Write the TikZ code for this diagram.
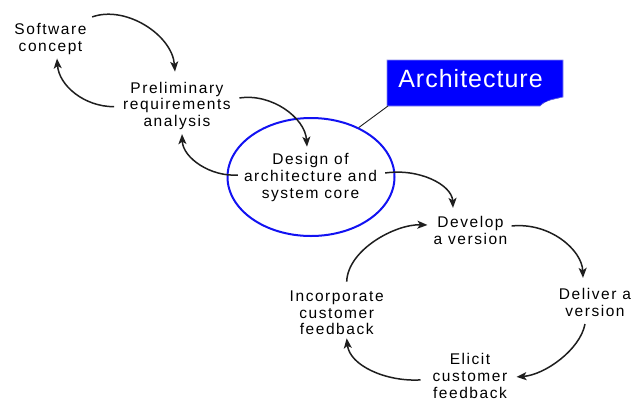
\documentclass[tikz,border=0pt]{standalone}
\usepackage{fontspec}
\setmainfont{Liberation Sans}
\newfontfamily\stagefont{Liberation Sans}[LetterSpace=10]
\newfontfamily\tagfont{Liberation Sans}[LetterSpace=4]
\usetikzlibrary{arrows.meta,shapes.geometric}
\definecolor{inkgray}{HTML}{1E1E1E}
\definecolor{ringblue}{HTML}{1212F2}
\definecolor{tagblue}{HTML}{0000FF}
\definecolor{tagedge}{HTML}{8888EE}
\definecolor{foldblue}{HTML}{0000C8}
\begin{document}
\begin{tikzpicture}[x=1pt, y=-1pt,
  stage/.style={align=center, inner sep=0pt, text=black, font=\stagefont\fontsize{15.5}{16.7}\selectfont},
  flow/.style={-{Stealth[length=10pt,width=8pt,inset=2.5pt]}, line width=1.5pt, draw=inkgray},
  ring/.style={draw=ringblue, ellipse, line width=2pt, minimum width=167pt, minimum height=118pt, inner sep=0pt},
  tag/.style={text=white, font=\tagfont\fontsize{25}{30}\selectfont, inner sep=0pt}]
\useasboundingbox (0,0) rectangle (633,400);

% stages of the process
\node[stage] (soft)    at (50.5,38.7)  {Software\\concept};
\node[stage] (prelim)  at (177,105.7)  {Preliminary\\requirements\\analysis};
\node[ring]  (ring)    at (311,177)    {};
\node[stage] (core)    at (310.5,177.5) {Design of\\architecture and\\system core};
\node[stage] (develop) at (470.5,230.8) {Develop\\a version};
\node[stage] (deliver) at (595,302.8)  {Deliver a\\version};
\node[stage] (elicit)  at (470,375.9)  {Elicit\\customer\\feedback};
\node[stage] (incorp)  at (336.7,313)  {Incorporate\\customer\\feedback};

% architecture callout
\filldraw[fill=tagblue, draw=tagedge, line width=0.6pt] (387,60) -- (563,60) -- (563,97)
  .. controls (555,99) and (545,100) .. (540,106) -- (387,106) -- cycle;
\fill[foldblue] (563,97) .. controls (555,99) and (545,100) .. (540,106) -- (546,101) -- cycle;
\coordinate (tagfoot) at (388,106);
\node[tag] (arch) at (470.5,79) {Architecture};
\draw[inkgray, line width=0.9pt] (tagfoot) -- (ring.46);

% flow of the process
\draw[flow] ([shift={(5.5,-6)}]soft.north east) .. controls +(33,-12) and +(-3,-37) .. ([shift={(-2,-10)}]prelim.north);
\draw[flow] ([shift={(-9,1)}]prelim.west) .. controls +(-30,0) and +(2,27) .. ([shift={(6.5,4)}]soft.south);
\draw[flow] ([shift={(8.5,-7.7)}]prelim.east) .. controls +(32,-5) and +(-2,-29) .. ([shift={(-3.5,-6.7)}]core.north);
\draw[flow] ([shift={(-6,-2.5)}]core.west) .. controls +(-27,2) and +(1,24) .. ([shift={(5,4.3)}]prelim.south);
\draw[flow] ([shift={(8,-4.5)}]core.east) .. controls +(34,-5) and +(-1,-23) .. ([shift={(-17.5,-8.7)}]develop.north);
\draw[flow] ([shift={(4,-4.8)}]develop.east) .. controls +(38,-4) and +(-1,-28) .. ([shift={(-12,-10.7)}]deliver.north);
\draw[flow] ([shift={(-10,7)}]deliver.south) .. controls +(-5,26) and +(28,-2) .. ([shift={(9,1)}]elicit.east);
\draw[flow] ([shift={(-12,4)}]elicit.west) .. controls +(-35,2) and +(3,27) .. ([shift={(10,3)}]incorp.south);
\draw[flow] ([shift={(10,-9)}]incorp.north) .. controls +(1,-32) and +(-32,-1) .. ([shift={(-6,-5.8)}]develop.west);

\end{tikzpicture}
\end{document}
